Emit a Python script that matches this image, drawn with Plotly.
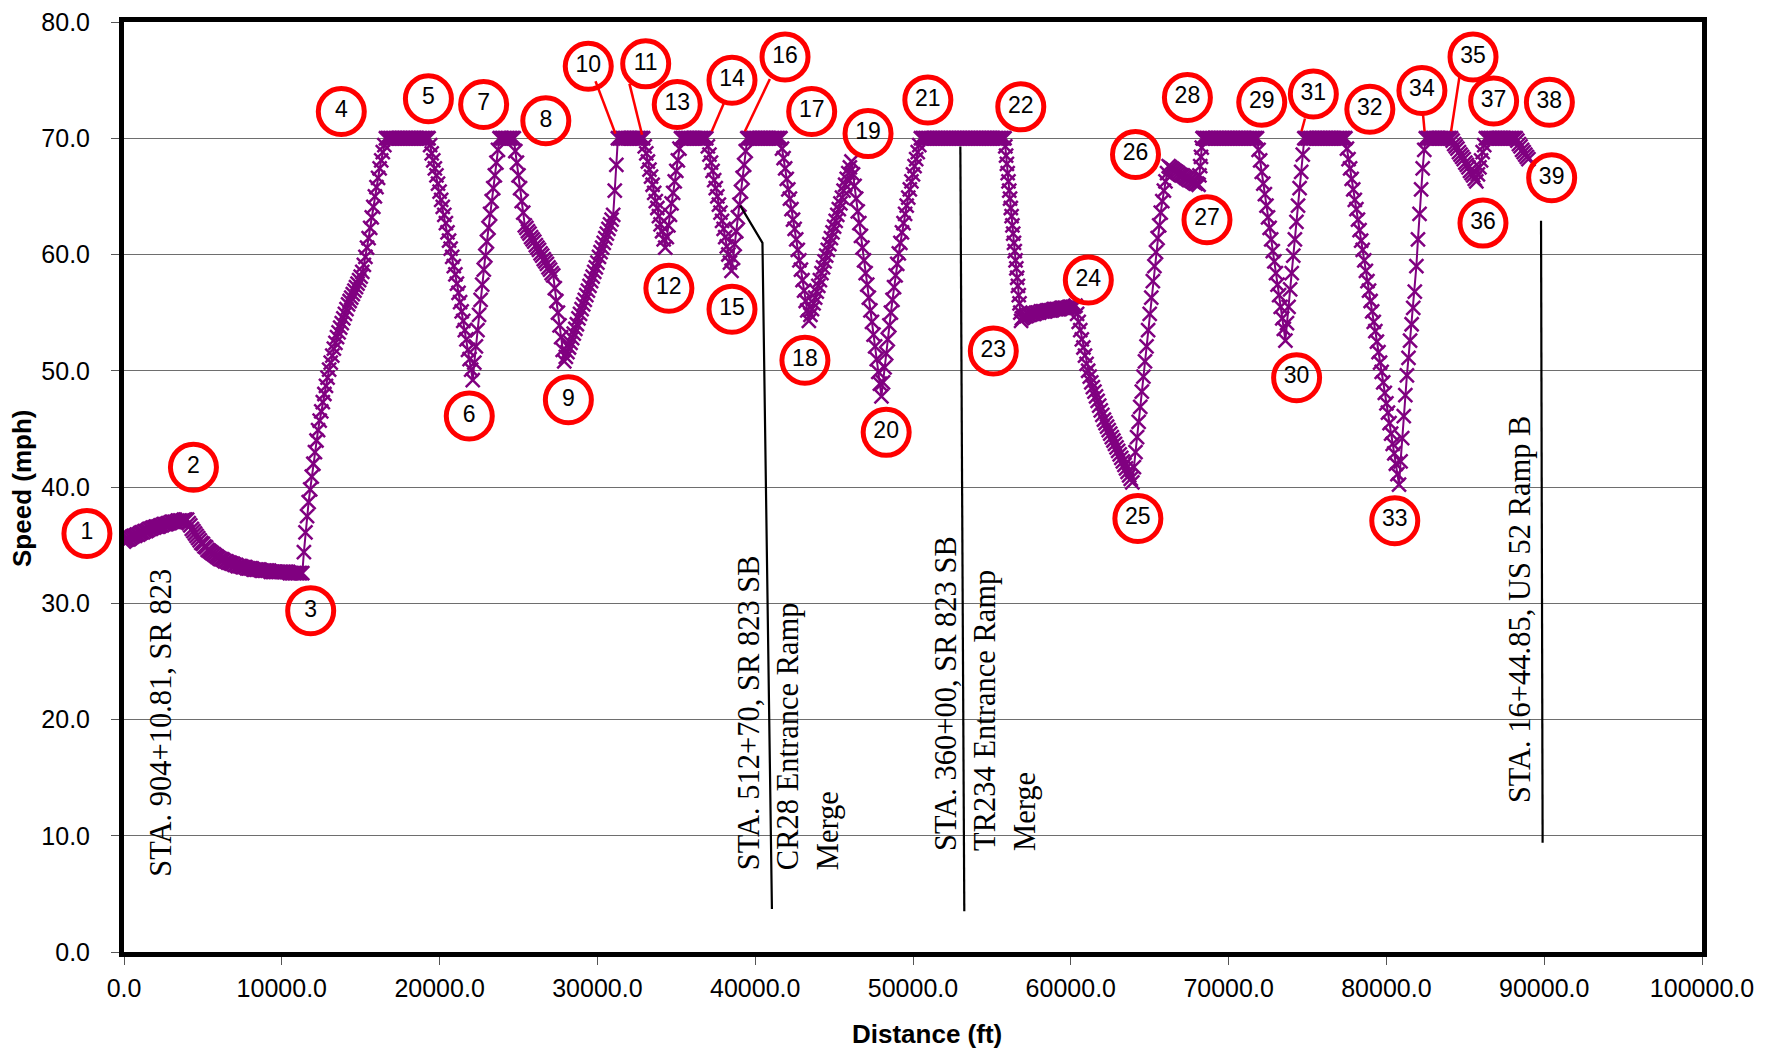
import plotly.graph_objects as go

# ---------------- speed profile data ----------------
# each segment: start distance (ft), sample spacing (ft), speeds (mph)
seg_start_ft = [0, 4100, 11400, 16600, 19400, 22200, 23900, 24800, 28000, 31400,
                33000, 34400, 35400, 37000, 38600, 39600, 41700, 43500, 46200, 48100,
                50600, 55850, 56900, 60400, 64000, 66300, 68150, 68400, 71900, 73700,
                74900, 77500, 80900, 82600, 84200, 85800, 86400, 88300]
seg_step_ft = [100, 100, 100, 100, 100, 100, 100, 100, 100, 100,
               100, 100, 100, 100, 100, 100, 100, 100, 100, 100,
               100, 50, 100, 100, 100, 100, 50, 100, 100, 100,
               100, 100, 100, 100, 100, 100, 100, 100]

speed_01_02 = [35.3, 35.4, 35.5, 35.5, 35.6, 35.7, 35.8, 35.8, 35.9, 35.9, 36.0, 36.1, 36.1, 36.2,
               36.2, 36.3, 36.4, 36.4, 36.5, 36.5, 36.6, 36.6, 36.6, 36.7, 36.7, 36.8, 36.8, 36.8,
               36.9, 36.9, 37.0, 37.0, 37.0, 37.0, 37.1, 37.1, 37.1, 37.1, 37.2, 37.2, 37.2]
speed_02_03 = [36.9, 36.7, 36.4, 36.2, 36.0, 35.8, 35.6, 35.4, 35.2, 35.1,
               34.9, 34.8, 34.6, 34.5, 34.4, 34.3, 34.2, 34.1, 34.0, 33.9,
               33.8, 33.8, 33.7, 33.6, 33.6, 33.5, 33.5, 33.4, 33.4, 33.3,
               33.3, 33.2, 33.2, 33.2, 33.1, 33.1, 33.1, 33.0, 33.0, 33.0,
               33.0, 32.9, 32.9, 32.9, 32.9, 32.9, 32.8, 32.8, 32.8, 32.8,
               32.8, 32.8, 32.7, 32.7, 32.7, 32.7, 32.7, 32.7, 32.7, 32.7,
               32.7, 32.7, 32.7, 32.7, 32.6, 32.6, 32.6, 32.6, 32.6, 32.6,
               32.6, 32.6, 32.6]
speed_03_04 = [34.4, 36.1, 37.5, 38.7, 39.8, 40.9, 42.0,
               43.0, 44.0, 44.9, 45.7, 46.5, 47.3, 48.0, 48.7, 49.4, 50.1,
               50.7, 51.3, 51.9, 52.4, 52.9, 53.3, 53.7, 54.1, 54.5, 54.9,
               55.3, 55.7, 56.0, 56.3, 56.6, 56.9, 57.2, 57.5, 57.8, 58.1,
               58.5, 59.1, 59.8, 60.6, 61.4, 62.3, 63.2, 64.1, 65.0, 65.8,
               66.6, 67.4, 68.1, 68.8, 69.4]
speed_04_05 = [70.0, 70.0, 70.0, 70.0, 70.0, 70.0, 70.0, 70.0, 70.0, 70.0, 70.0, 70.0, 70.0, 70.0,
               70.0, 70.0, 70.0, 70.0, 70.0, 70.0, 70.0, 70.0, 70.0, 70.0, 70.0, 70.0, 70.0, 70.0]
speed_05_06 = [69.4, 68.7, 68.1, 67.4, 66.8, 66.1, 65.4, 64.7, 64.1, 63.4, 62.7, 61.9, 61.2, 60.5,
               59.8, 59.0, 58.3, 57.5, 56.7, 55.9, 55.1, 54.3, 53.5, 52.7, 51.8, 51.0, 50.1, 49.2]
speed_06_07 = [50.7, 52.1, 53.5, 54.8, 56.1, 57.4, 58.7, 59.9, 61.1, 62.3, 63.5, 64.6, 65.7, 66.8,
               67.9, 69.0, 70.0]
speed_07 = [70.0, 70.0, 70.0, 70.0, 70.0, 70.0, 70.0, 70.0, 70.0]
speed_07_09 = [68.9, 67.9, 66.8, 65.7, 64.6, 63.6, 62.5, 62.3, 62.0, 61.8, 61.5, 61.3, 61.1, 60.8,
               60.6, 60.4, 60.1, 59.9, 59.6, 59.4, 59.2, 58.9, 58.7, 58.4, 58.2, 57.1, 56.0, 55.0,
               53.9, 52.9, 51.8, 50.8]
speed_09_10 = [51.2, 51.6, 52.0, 52.4, 52.8, 53.2, 53.6, 54.0, 54.5, 54.9,
               55.3, 55.7, 56.1, 56.5, 56.9, 57.3, 57.7, 58.1, 58.5, 58.9,
               59.3, 59.8, 60.2, 60.6, 61.0, 61.4, 61.8, 62.2, 62.6, 63.0,
               63.4, 65.5, 67.7, 70.0]
speed_10_11 = [70.0, 70.0, 70.0, 70.0, 70.0, 70.0, 70.0, 70.0, 70.0, 70.0, 70.0, 70.0, 70.0, 70.0,
               70.0, 70.0]
speed_11_12 = [69.3, 68.7, 68.0, 67.3, 66.7, 66.0, 65.3, 64.6, 64.0, 63.3, 62.6, 62.0, 61.3, 60.6]
speed_12_13 = [61.5, 62.5, 63.4, 64.4, 65.3, 66.3, 67.2, 68.1, 69.1, 70.0]
speed_13_14 = [70.0, 70.0, 70.0, 70.0, 70.0, 70.0, 70.0, 70.0, 70.0, 70.0, 70.0, 70.0, 70.0, 70.0,
               70.0, 70.0]
speed_14_15 = [69.3, 68.6, 67.9, 67.2, 66.4, 65.7, 65.0, 64.3, 63.6, 62.9, 62.2, 61.5, 60.7, 60.0,
               59.3, 58.6]
speed_15_16 = [59.7, 60.9, 62.0, 63.2, 64.3, 65.4, 66.6, 67.7, 68.9, 70.0]
speed_16_17 = [70.0, 70.0, 70.0, 70.0, 70.0, 70.0, 70.0, 70.0, 70.0, 70.0, 70.0, 70.0, 70.0, 70.0,
               70.0, 70.0, 70.0, 70.0, 70.0, 70.0, 70.0]
speed_17_18 = [69.1, 68.3, 67.4, 66.5, 65.6, 64.8, 63.9, 63.0, 62.2, 61.3, 60.4, 59.5, 58.7, 57.8,
               56.9, 56.0, 55.2, 54.3]
speed_18_19 = [54.8, 55.3, 55.8, 56.3, 56.8, 57.3, 57.8, 58.4, 58.9, 59.4,
               59.9, 60.4, 60.9, 61.4, 61.9, 62.4, 62.9, 63.4, 63.9, 64.4,
               64.9, 65.5, 66.0, 66.5, 67.0, 67.5, 68.0]
speed_19_20 = [66.9, 65.9, 64.8, 63.7, 62.7, 61.6, 60.6, 59.5, 58.4, 57.4, 56.3, 55.2, 54.2, 53.1,
               52.1, 51.0, 49.9, 48.9, 47.8]
speed_20_21 = [49.0, 50.3, 51.5, 52.7, 53.9, 55.0, 56.1, 57.2, 58.2, 59.2, 60.1, 61.0, 61.9, 62.7,
               63.5, 64.2, 64.9, 65.6, 66.3, 66.9, 67.6, 68.2, 68.8, 69.4, 70.0]
speed_21_22 = [70.0, 70.0, 70.0, 70.0, 70.0, 70.0, 70.0, 70.0, 70.0, 70.0, 70.0, 70.0, 70.0, 70.0,
               70.0, 70.0, 70.0, 70.0, 70.0, 70.0, 70.0, 70.0, 70.0, 70.0, 70.0, 70.0, 70.0, 70.0,
               70.0, 70.0, 70.0, 70.0, 70.0, 70.0, 70.0, 70.0, 70.0, 70.0, 70.0, 70.0, 70.0, 70.0,
               70.0, 70.0, 70.0, 70.0, 70.0, 70.0, 70.0, 70.0, 70.0, 70.0, 70.0]
speed_22_23 = [69.3, 68.5, 67.8, 67.0, 66.3, 65.5, 64.8, 64.0, 63.3, 62.5, 61.8, 61.0, 60.3, 59.5,
               58.8, 58.0, 57.3, 56.5, 55.8, 55.0, 54.3]
speed_23_24 = [54.5, 54.6, 54.7, 54.7, 54.8, 54.8, 54.9, 54.9, 54.9, 55.0, 55.0, 55.0, 55.1, 55.1,
               55.1, 55.1, 55.2, 55.2, 55.2, 55.2, 55.3, 55.3, 55.3, 55.3, 55.3, 55.4, 55.4, 55.4,
               55.4, 55.4, 55.5, 55.5, 55.5, 55.5, 55.6]
speed_24_25 = [54.9, 54.2, 53.5, 52.7, 52.0, 51.3, 50.6, 50.0, 49.5, 49.0, 48.6, 48.2, 47.8, 47.4,
               47.0, 46.6, 46.2, 45.8, 45.5, 45.2, 44.9, 44.6, 44.3, 44.0, 43.7, 43.4, 43.1, 42.8,
               42.5, 42.2, 41.9, 41.6, 41.3, 41.0, 40.7, 40.4]
speed_25_26 = [41.7, 43.0, 44.3, 45.6, 46.9, 48.2, 49.5, 50.8, 52.1, 53.5, 54.9, 56.3, 57.7, 59.0,
               60.2, 61.4, 62.5, 63.6, 64.6, 65.5, 66.3, 67.0, 67.6]
speed_26_27 = [67.5, 67.4, 67.3, 67.2, 67.1, 67.0, 66.9, 66.8, 66.8, 66.7, 66.6, 66.5, 66.4, 66.4,
               66.3, 66.2, 66.1, 66.1, 66.0]
speed_27_28 = [66.8, 67.6, 68.4, 69.2, 70.0]
speed_28_29 = [70.0, 70.0, 70.0, 70.0, 70.0, 70.0, 70.0, 70.0, 70.0, 70.0, 70.0, 70.0, 70.0, 70.0,
               70.0, 70.0, 70.0, 70.0, 70.0, 70.0, 70.0, 70.0, 70.0, 70.0, 70.0, 70.0, 70.0, 70.0,
               70.0, 70.0, 70.0, 70.0, 70.0, 70.0, 70.0]
speed_29_30 = [69.0, 68.1, 67.1, 66.1, 65.2, 64.2, 63.2, 62.3, 61.3, 60.3, 59.4, 58.4, 57.4, 56.5,
               55.5, 54.5, 53.6, 52.6]
speed_30_31 = [54.1, 55.5, 57.0, 58.4, 59.9, 61.3, 62.8, 64.2, 65.7, 67.1, 68.6, 70.0]
speed_31_32 = [70.0, 70.0, 70.0, 70.0, 70.0, 70.0, 70.0, 70.0, 70.0, 70.0, 70.0, 70.0, 70.0, 70.0,
               70.0, 70.0, 70.0, 70.0, 70.0, 70.0, 70.0, 70.0, 70.0, 70.0, 70.0, 70.0]
speed_32_33 = [69.1, 68.2, 67.4, 66.5, 65.6, 64.7, 63.9, 63.0, 62.1, 61.2,
               60.4, 59.5, 58.6, 57.7, 56.9, 56.0, 55.1, 54.2, 53.4, 52.5,
               51.6, 50.7, 49.9, 49.0, 48.1, 47.2, 46.4, 45.5, 44.6, 43.7,
               42.9, 42.0, 41.1, 40.2]
speed_33_34 = [42.2, 44.2, 46.1, 47.9, 49.6, 51.1, 52.6, 54.0, 55.4, 56.8, 59.0, 61.3, 63.5, 65.6,
               67.4, 69.0, 70.0]
speed_34_35 = [70.0, 70.0, 70.0, 70.0, 70.0, 70.0, 70.0, 70.0, 70.0, 70.0, 70.0, 70.0, 70.0, 70.0,
               70.0, 70.0]
speed_35_36 = [69.8, 69.5, 69.3, 69.1, 68.8, 68.6, 68.4, 68.2, 67.9, 67.7, 67.5, 67.2, 67.0, 66.8,
               66.5, 66.3]
speed_36_37 = [66.9, 67.5, 68.1, 68.8, 69.4, 70.0]
speed_37_38 = [70.0, 70.0, 70.0, 70.0, 70.0, 70.0, 70.0, 70.0, 70.0, 70.0, 70.0, 70.0, 70.0, 70.0,
               70.0, 70.0, 70.0, 70.0, 70.0]
speed_38_39 = [69.8, 69.5, 69.3, 69.0, 68.8, 68.6, 68.4, 68.2]

segments = [speed_01_02, speed_02_03, speed_03_04, speed_04_05, speed_05_06, speed_06_07,
            speed_07, speed_07_09, speed_09_10, speed_10_11, speed_11_12, speed_12_13,
            speed_13_14, speed_14_15, speed_15_16, speed_16_17, speed_17_18, speed_18_19,
            speed_19_20, speed_20_21, speed_21_22, speed_22_23, speed_23_24, speed_24_25,
            speed_25_26, speed_26_27, speed_27_28, speed_28_29, speed_29_30, speed_30_31,
            speed_31_32, speed_32_33, speed_33_34, speed_34_35, speed_35_36, speed_36_37,
            speed_37_38, speed_38_39]

# ---------------- numbered circle labels ----------------
circle_num = [str(i) for i in range(1, 40)]
circle_x = [-2350, 4400, 11830, 13770, 19290, 21880, 22790, 26730, 28160, 29420,
            33060, 34530, 35060, 38530, 38530, 41890, 43580, 43150, 47150, 48300,
            50940, 56830, 55090, 61110, 64250, 64100, 68630, 67390, 72100, 74310,
            75370, 78950, 80530, 82250, 85489, 86120, 86795, 90328, 90473]
circle_y = [36.0, 41.7, 29.35, 72.3, 73.4, 46.1, 72.9, 71.5, 47.5, 76.2,
            76.4, 57.1, 72.9, 75.0, 55.3, 77.0, 72.3, 50.9, 70.4, 44.7,
            73.3, 72.7, 51.7, 57.8, 37.3, 68.6, 63.0, 73.5, 73.1, 49.4,
            73.8, 72.5, 37.1, 74.1, 77.0, 62.7, 73.2, 73.1, 66.6]

# red leader lines: (x0, y0) -> (x1, y1)
leader_x0 = [29880, 32030, 38040, 40930, 74840, 82310, 84630]
leader_y0 = [74.9, 74.7, 73.1, 75.1, 71.7, 72.2, 75.3]
leader_x1 = [31140, 32830, 37250, 39350, 74620, 82420, 84100]
leader_y1 = [70.4, 70.3, 70.6, 70.6, 70.6, 70.6, 70.6]

# black station marker lines
station_a_x = [39050, 40460, 41060]
station_a_y = [64.2, 61.0, 3.7]
station_b_x = [53000, 53250]
station_b_y = [69.3, 3.5]
station_c_x = [89800, 89900]
station_c_y = [62.9, 9.4]

# station notes (rotated text)
note_text = ["STA. 904+10.81, SR 823",
             "STA. 512+70, SR 823 SB<br>CR28 Entrance Ramp<br>Merge",
             "STA. 360+00, SR 823 SB<br>TR234 Entrance Ramp<br>Merge",
             "STA. 16+44.85, US 52 Ramp B"]
note_x = [2340, 42070, 54580, 88440]
note_y = [6.3, 6.9, 8.5, 12.6]

# ---------------- build the series ----------------
distance = []
speed = []
for start, step, vals in zip(seg_start_ft, seg_step_ft, segments):
    for i, v in enumerate(vals):
        distance.append(start + step * i)
        speed.append(v)

# ---------------- geometry (pixels, figure coordinates) ----------------
# the page body adds an 8 px margin at top/left, so the figure is placed 8 px in
OFF = 8
W, H = 1777 - OFF, 1054 - OFF
PLOT_L, PLOT_R, PLOT_T, PLOT_B = 124 - OFF, 1702 - OFF, 22 - OFF, 952 - OFF
ML = 32
MR = W - PLOT_R
MT = PLOT_T
MB = H - PLOT_B
area_w = W - ML - MR
area_h = H - MT - MB
x_dom0 = (PLOT_L - ML) / area_w
ft_per_px = 100000 / (PLOT_R - PLOT_L)
x2_min = -(PLOT_L - ML) * ft_per_px        # helper axis reaching left of the box

PURPLE = "#800080"
fig = go.Figure()

fig.add_trace(go.Scatter(
    x=distance, y=speed, mode="lines+markers",
    line=dict(color=PURPLE, width=2),
    marker=dict(symbol="x-thin", size=14, color=PURPLE, line=dict(color=PURPLE, width=2.5)),
    showlegend=False, hoverinfo="skip"))

for xs, ys in [(station_a_x, station_a_y), (station_b_x, station_b_y), (station_c_x, station_c_y)]:
    fig.add_trace(go.Scatter(x=xs, y=ys, mode="lines", line=dict(color="black", width=2.2),
                             showlegend=False, hoverinfo="skip"))

for x0, y0, x1, y1 in zip(leader_x0, leader_y0, leader_x1, leader_y1):
    fig.add_trace(go.Scatter(x=[x0, x1], y=[y0, y1], mode="lines",
                             line=dict(color="#FF0000", width=2.5),
                             showlegend=False, hoverinfo="skip"))

fig.add_trace(go.Scatter(
    x=circle_x, y=circle_y, mode="markers+text", text=circle_num,
    textposition="middle center", xaxis="x2", yaxis="y2",
    textfont=dict(family="Liberation Sans, Arial", size=23, color="black"),
    marker=dict(symbol="circle-open", size=46, color="#FF0000",
                line=dict(color="#FF0000", width=5)),
    cliponaxis=False, showlegend=False, hoverinfo="skip"))

for t, x, y in zip(note_text, note_x, note_y):
    fig.add_annotation(x=x, y=y, xref="x", yref="y", text=t, showarrow=False,
                       textangle=-90, xanchor="center", yanchor="bottom", align="left",
                       font=dict(family="Liberation Serif, Times New Roman", size=30.5, color="black"))

title_font = dict(family="Liberation Sans, Arial", size=26, color="black")
fig.add_annotation(text="<b>Distance (ft)</b>", xref="paper", yref="paper",
                   x=(927 - OFF - ML) / area_w, y=(PLOT_B - (1034 - OFF)) / area_h,
                   xanchor="center", yanchor="middle", showarrow=False, font=title_font)
fig.add_annotation(text="<b>Speed (mph)</b>", xref="paper", yref="paper",
                   x=(22 - OFF - ML) / area_w, y=(PLOT_B - (489 - OFF)) / area_h, textangle=-90,
                   xanchor="center", yanchor="middle", showarrow=False, font=title_font)

axis_font = dict(family="Liberation Sans, Arial", size=25, color="black")
fig.update_layout(
    width=W, height=H,
    margin=dict(l=ML, r=MR, t=MT, b=MB),
    paper_bgcolor="white", plot_bgcolor="rgba(0,0,0,0)",
    font=dict(family="Liberation Sans, Arial", color="black"),
    xaxis=dict(domain=[x_dom0, 1], range=[0, 100000], dtick=10000, tick0=0, tickformat=".1f",
               showgrid=False, zeroline=False, automargin=False, ticklabeloverflow="allow",
               showline=True, linecolor="black", linewidth=5, mirror=True,
               ticks="outside", ticklen=8, tickwidth=1, tickcolor="#555555",
               tickfont=axis_font, ticklabelstandoff=2),
    yaxis=dict(range=[0, 80], dtick=10, tick0=0, tickformat=".1f",
               showgrid=True, gridcolor="#6e6e6e", gridwidth=1, zeroline=False, automargin=False,
               ticklabeloverflow="allow",
               showline=True, linecolor="black", linewidth=5, mirror=True,
               ticks="outside", ticklen=8, tickwidth=1, tickcolor="#555555",
               tickfont=axis_font, ticklabelstandoff=16),
    xaxis2=dict(domain=[0, 1], range=[x2_min, 100000], visible=False, anchor="y2"),
    yaxis2=dict(domain=[0, 1], range=[0, 80], visible=False, anchor="x2"),
)

fig.write_html("out.html")
